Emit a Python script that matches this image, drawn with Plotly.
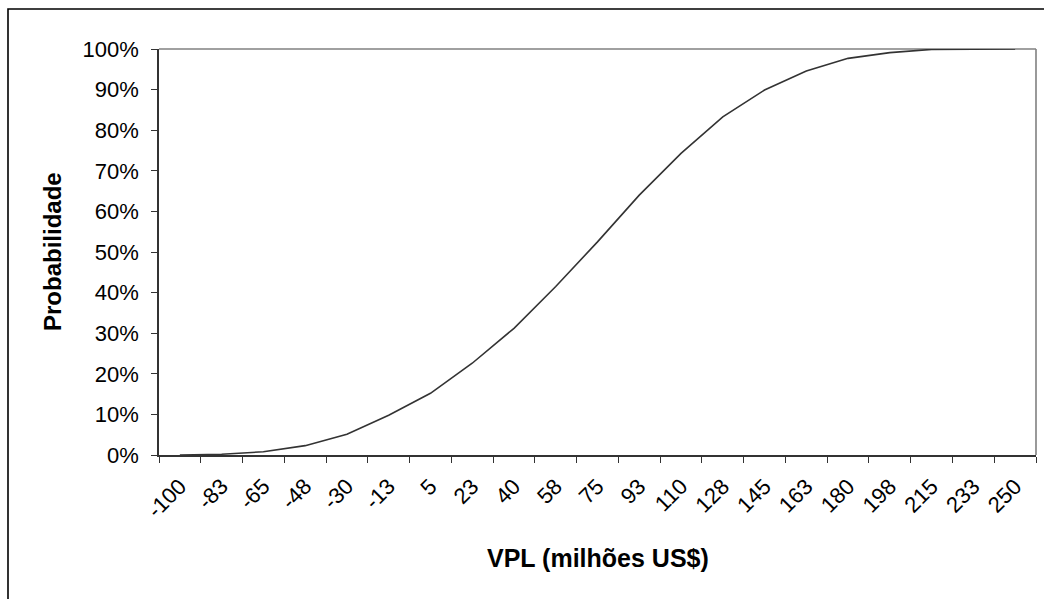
import plotly.graph_objects as go

categories = ["-100", "-83", "-65", "-48", "-30", "-13", "5", "23", "40", "58", "75",
              "93", "110", "128", "145", "163", "180", "198", "215", "233", "250"]
probability = [0.0, 0.2, 0.8, 2.3, 5.1, 9.8, 15.2, 22.6, 31.2, 41.5, 52.5,
               64.0, 74.3, 83.3, 89.9, 94.6, 97.7, 99.1, 99.9, 100.0, 100.0]
y_ticks = [0, 10, 20, 30, 40, 50, 60, 70, 80, 90, 100]

W, H = 1044, 599
L, R, T, B = 159, 8, 49, 144
pw, ph = W - L - R, H - T - B

font_family = "Liberation Sans, Arial, sans-serif"

fig = go.Figure()
fig.add_trace(go.Scatter(
    x=categories, y=probability, mode="lines",
    line=dict(color="#333333", width=1.6),
    hoverinfo="skip", showlegend=False,
))

fig.update_layout(
    width=W, height=H,
    margin=dict(l=L, r=R, t=T, b=B),
    paper_bgcolor="white", plot_bgcolor="white",
    font=dict(family=font_family, color="black", size=22),
    showlegend=False,
    xaxis=dict(
        type="category", range=[-0.5, len(categories) - 0.5],
        tickson="boundaries", ticks="outside", ticklen=6, tickwidth=1.2, tickcolor="#333333",
        showline=True, linecolor="#333333", linewidth=1.6,
        showgrid=False, zeroline=False, tickangle=-45, ticklabelstandoff=8,
        tickfont=dict(size=22, family=font_family),
    ),
    yaxis=dict(
        range=[0, 100], tickvals=y_ticks, ticktext=[f"{v}%" for v in y_ticks],
        ticks="outside", ticklen=6, tickwidth=1.2, tickcolor="#333333",
        showline=True, linecolor="#333333", linewidth=1.6,
        showgrid=False, zeroline=False, ticklabelstandoff=8,
        tickfont=dict(size=22, family=font_family),
    ),
    shapes=[
        dict(type="line", xref="paper", yref="paper", x0=0, x1=1, y0=1, y1=1,
             line=dict(color="#808080", width=1.6), layer="below"),
        dict(type="line", xref="paper", yref="paper", x0=1, x1=1, y0=0, y1=1,
             line=dict(color="#808080", width=1.6), layer="below"),
        dict(type="rect", xref="paper", yref="paper",
             x0=(8 - L) / pw, x1=(W + 10 - L) / pw,
             y0=(H - B - (H + 10)) / ph, y1=(H - B - 9) / ph,
             line=dict(color="black", width=1.6), fillcolor="rgba(0,0,0,0)"),
    ],
    annotations=[
        dict(text="<b>Probabilidade</b>", xref="paper", yref="paper",
             x=(52 - L) / pw, y=0.5, textangle=-90, showarrow=False,
             xanchor="center", yanchor="middle", font=dict(size=24, family=font_family)),
        dict(text="<b>VPL (milhões US$)</b>", xref="paper", yref="paper",
             x=(598 - L) / pw, y=(H - B - 558) / ph, showarrow=False,
             xanchor="center", yanchor="middle", font=dict(size=25, family=font_family)),
    ],
)

fig.write_html("out.html", config={"displayModeBar": False},
               post_script="document.body.style.margin='0';document.body.style.overflow='hidden';")
